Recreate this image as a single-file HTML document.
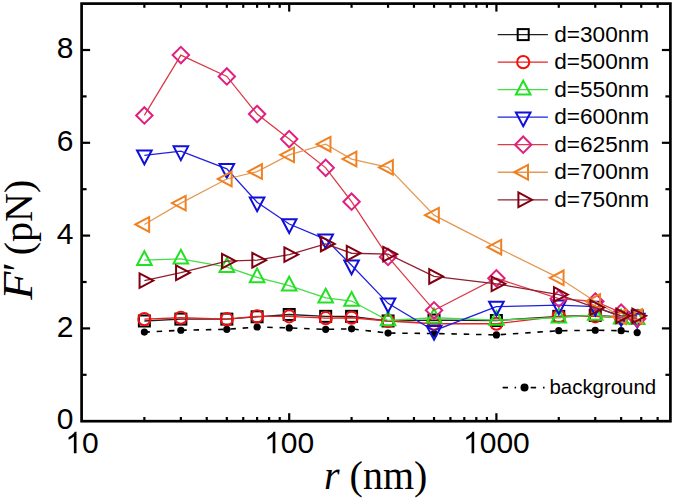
<!DOCTYPE html>
<html><head><meta charset="utf-8"><style>
html,body{margin:0;padding:0;background:#fff;width:675px;height:499px;overflow:hidden;font-family:"Liberation Sans",sans-serif;}
svg{display:block;}
</style></head><body>
<svg width="675" height="499" viewBox="0 0 675 499" font-family="Liberation Sans, sans-serif">
<rect width="675" height="499" fill="#fff"/>
<defs><clipPath id="c"><rect x="81.6" y="3.6" width="588.8" height="417.59999999999997"/></clipPath></defs>
<g clip-path="url(#c)">
<polyline points="144.37,332.11 180.86,330.26 226.83,329.33 257.10,327.01 289.20,327.94 325.69,329.33 351.57,328.86 388.06,333.04 434.03,333.50 496.40,334.90 558.77,330.72 595.26,330.26 621.15,330.72 637.18,332.58" fill="none" stroke="#000" stroke-width="1.6" stroke-dasharray="5.5 6.8"/>
<circle cx="144.37" cy="332.11" r="3.6" fill="#000"/>
<circle cx="180.86" cy="330.26" r="3.6" fill="#000"/>
<circle cx="226.83" cy="329.33" r="3.6" fill="#000"/>
<circle cx="257.10" cy="327.01" r="3.6" fill="#000"/>
<circle cx="289.20" cy="327.94" r="3.6" fill="#000"/>
<circle cx="325.69" cy="329.33" r="3.6" fill="#000"/>
<circle cx="351.57" cy="328.86" r="3.6" fill="#000"/>
<circle cx="388.06" cy="333.04" r="3.6" fill="#000"/>
<circle cx="434.03" cy="333.50" r="3.6" fill="#000"/>
<circle cx="496.40" cy="334.90" r="3.6" fill="#000"/>
<circle cx="558.77" cy="330.72" r="3.6" fill="#000"/>
<circle cx="595.26" cy="330.26" r="3.6" fill="#000"/>
<circle cx="621.15" cy="330.72" r="3.6" fill="#000"/>
<circle cx="637.18" cy="332.58" r="3.6" fill="#000"/>
<polyline points="144.37,320.98 180.86,319.12 226.83,319.12 257.10,316.80 289.20,314.48 325.69,316.34 351.57,316.34 388.06,320.98 434.03,320.05 496.40,320.51 558.77,316.34 595.26,315.41 621.15,316.80 637.18,315.87" fill="none" stroke="#202020" stroke-width="1.3"/>
<rect x="138.87" y="315.48" width="11.00" height="11.00" fill="none" stroke="#000000" stroke-width="2"/>
<rect x="175.36" y="313.62" width="11.00" height="11.00" fill="none" stroke="#000000" stroke-width="2"/>
<rect x="221.33" y="313.62" width="11.00" height="11.00" fill="none" stroke="#000000" stroke-width="2"/>
<rect x="251.60" y="311.30" width="11.00" height="11.00" fill="none" stroke="#000000" stroke-width="2"/>
<rect x="283.70" y="308.98" width="11.00" height="11.00" fill="none" stroke="#000000" stroke-width="2"/>
<rect x="320.19" y="310.84" width="11.00" height="11.00" fill="none" stroke="#000000" stroke-width="2"/>
<rect x="346.07" y="310.84" width="11.00" height="11.00" fill="none" stroke="#000000" stroke-width="2"/>
<rect x="382.56" y="315.48" width="11.00" height="11.00" fill="none" stroke="#000000" stroke-width="2"/>
<rect x="428.53" y="314.55" width="11.00" height="11.00" fill="none" stroke="#000000" stroke-width="2"/>
<rect x="490.90" y="315.01" width="11.00" height="11.00" fill="none" stroke="#000000" stroke-width="2"/>
<rect x="553.27" y="310.84" width="11.00" height="11.00" fill="none" stroke="#000000" stroke-width="2"/>
<rect x="589.76" y="309.91" width="11.00" height="11.00" fill="none" stroke="#000000" stroke-width="2"/>
<rect x="615.65" y="311.30" width="11.00" height="11.00" fill="none" stroke="#000000" stroke-width="2"/>
<rect x="631.68" y="310.37" width="11.00" height="11.00" fill="none" stroke="#000000" stroke-width="2"/>
<polyline points="144.37,319.12 180.86,317.73 226.83,319.12 257.10,316.34 289.20,316.34 325.69,318.19 351.57,317.73 388.06,320.98 434.03,323.76 496.40,323.76 558.77,316.34 595.26,316.34 621.15,317.73 637.18,318.19" fill="none" stroke="#e82020" stroke-width="1.3"/>
<circle cx="144.37" cy="319.12" r="6.1" fill="none" stroke="#f01010" stroke-width="2"/>
<circle cx="180.86" cy="317.73" r="6.1" fill="none" stroke="#f01010" stroke-width="2"/>
<circle cx="226.83" cy="319.12" r="6.1" fill="none" stroke="#f01010" stroke-width="2"/>
<circle cx="257.10" cy="316.34" r="6.1" fill="none" stroke="#f01010" stroke-width="2"/>
<circle cx="289.20" cy="316.34" r="6.1" fill="none" stroke="#f01010" stroke-width="2"/>
<circle cx="325.69" cy="318.19" r="6.1" fill="none" stroke="#f01010" stroke-width="2"/>
<circle cx="351.57" cy="317.73" r="6.1" fill="none" stroke="#f01010" stroke-width="2"/>
<circle cx="388.06" cy="320.98" r="6.1" fill="none" stroke="#f01010" stroke-width="2"/>
<circle cx="434.03" cy="323.76" r="6.1" fill="none" stroke="#f01010" stroke-width="2"/>
<circle cx="496.40" cy="323.76" r="6.1" fill="none" stroke="#f01010" stroke-width="2"/>
<circle cx="558.77" cy="316.34" r="6.1" fill="none" stroke="#f01010" stroke-width="2"/>
<circle cx="595.26" cy="316.34" r="6.1" fill="none" stroke="#f01010" stroke-width="2"/>
<circle cx="621.15" cy="317.73" r="6.1" fill="none" stroke="#f01010" stroke-width="2"/>
<circle cx="637.18" cy="318.19" r="6.1" fill="none" stroke="#f01010" stroke-width="2"/>
<polyline points="144.37,260.19 180.86,258.80 226.83,267.15 257.10,277.36 289.20,285.71 325.69,297.78 351.57,301.02 388.06,320.51 434.03,317.73 496.40,320.05 558.77,317.73 595.26,314.94 621.15,318.66 637.18,319.12" fill="none" stroke="#44dd44" stroke-width="1.3"/>
<polygon points="144.37,251.19 151.67,264.99 137.07,264.99" fill="none" stroke="#22e022" stroke-width="2" stroke-linejoin="miter"/>
<polygon points="180.86,249.80 188.16,263.60 173.56,263.60" fill="none" stroke="#22e022" stroke-width="2" stroke-linejoin="miter"/>
<polygon points="226.83,258.15 234.13,271.95 219.53,271.95" fill="none" stroke="#22e022" stroke-width="2" stroke-linejoin="miter"/>
<polygon points="257.10,268.36 264.40,282.16 249.80,282.16" fill="none" stroke="#22e022" stroke-width="2" stroke-linejoin="miter"/>
<polygon points="289.20,276.71 296.50,290.51 281.90,290.51" fill="none" stroke="#22e022" stroke-width="2" stroke-linejoin="miter"/>
<polygon points="325.69,288.78 332.99,302.58 318.39,302.58" fill="none" stroke="#22e022" stroke-width="2" stroke-linejoin="miter"/>
<polygon points="351.57,292.02 358.87,305.82 344.27,305.82" fill="none" stroke="#22e022" stroke-width="2" stroke-linejoin="miter"/>
<polygon points="388.06,311.51 395.36,325.31 380.76,325.31" fill="none" stroke="#22e022" stroke-width="2" stroke-linejoin="miter"/>
<polygon points="434.03,308.73 441.33,322.53 426.73,322.53" fill="none" stroke="#22e022" stroke-width="2" stroke-linejoin="miter"/>
<polygon points="496.40,311.05 503.70,324.85 489.10,324.85" fill="none" stroke="#22e022" stroke-width="2" stroke-linejoin="miter"/>
<polygon points="558.77,308.73 566.07,322.53 551.47,322.53" fill="none" stroke="#22e022" stroke-width="2" stroke-linejoin="miter"/>
<polygon points="595.26,305.94 602.56,319.74 587.96,319.74" fill="none" stroke="#22e022" stroke-width="2" stroke-linejoin="miter"/>
<polygon points="621.15,309.66 628.45,323.46 613.85,323.46" fill="none" stroke="#22e022" stroke-width="2" stroke-linejoin="miter"/>
<polygon points="637.18,310.12 644.48,323.92 629.88,323.92" fill="none" stroke="#22e022" stroke-width="2" stroke-linejoin="miter"/>
<polyline points="144.37,155.33 180.86,151.15 226.83,168.78 257.10,202.19 289.20,224.00 325.69,239.31 351.57,265.30 388.06,303.34 434.03,330.72 496.40,306.59 558.77,305.20 595.26,306.59 621.15,316.80 637.18,318.66" fill="none" stroke="#2020e0" stroke-width="1.3"/>
<polygon points="144.37,164.33 151.67,150.53 137.07,150.53" fill="none" stroke="#1010d8" stroke-width="2" stroke-linejoin="miter"/>
<polygon points="180.86,160.15 188.16,146.35 173.56,146.35" fill="none" stroke="#1010d8" stroke-width="2" stroke-linejoin="miter"/>
<polygon points="226.83,177.78 234.13,163.98 219.53,163.98" fill="none" stroke="#1010d8" stroke-width="2" stroke-linejoin="miter"/>
<polygon points="257.10,211.19 264.40,197.39 249.80,197.39" fill="none" stroke="#1010d8" stroke-width="2" stroke-linejoin="miter"/>
<polygon points="289.20,233.00 296.50,219.20 281.90,219.20" fill="none" stroke="#1010d8" stroke-width="2" stroke-linejoin="miter"/>
<polygon points="325.69,248.31 332.99,234.51 318.39,234.51" fill="none" stroke="#1010d8" stroke-width="2" stroke-linejoin="miter"/>
<polygon points="351.57,274.30 358.87,260.50 344.27,260.50" fill="none" stroke="#1010d8" stroke-width="2" stroke-linejoin="miter"/>
<polygon points="388.06,312.34 395.36,298.54 380.76,298.54" fill="none" stroke="#1010d8" stroke-width="2" stroke-linejoin="miter"/>
<polygon points="434.03,339.72 441.33,325.92 426.73,325.92" fill="none" stroke="#1010d8" stroke-width="2" stroke-linejoin="miter"/>
<polygon points="496.40,315.59 503.70,301.79 489.10,301.79" fill="none" stroke="#1010d8" stroke-width="2" stroke-linejoin="miter"/>
<polygon points="558.77,314.20 566.07,300.40 551.47,300.40" fill="none" stroke="#1010d8" stroke-width="2" stroke-linejoin="miter"/>
<polygon points="595.26,315.59 602.56,301.79 587.96,301.79" fill="none" stroke="#1010d8" stroke-width="2" stroke-linejoin="miter"/>
<polygon points="621.15,325.80 628.45,312.00 613.85,312.00" fill="none" stroke="#1010d8" stroke-width="2" stroke-linejoin="miter"/>
<polygon points="637.18,327.66 644.48,313.86 629.88,313.86" fill="none" stroke="#1010d8" stroke-width="2" stroke-linejoin="miter"/>
<polyline points="144.37,115.42 180.86,55.10 226.83,76.45 257.10,114.03 289.20,139.09 325.69,167.86 351.57,201.73 388.06,256.94 434.03,310.30 496.40,278.29 558.77,298.70 595.26,301.49 621.15,312.62 637.18,318.66" fill="none" stroke="#dc3a48" stroke-width="1.3"/>
<polygon points="144.37,107.22 152.57,115.42 144.37,123.62 136.17,115.42" fill="none" stroke="#e0207f" stroke-width="2" stroke-linejoin="miter"/>
<polygon points="180.86,46.90 189.06,55.10 180.86,63.30 172.66,55.10" fill="none" stroke="#e0207f" stroke-width="2" stroke-linejoin="miter"/>
<polygon points="226.83,68.25 235.03,76.45 226.83,84.65 218.63,76.45" fill="none" stroke="#e0207f" stroke-width="2" stroke-linejoin="miter"/>
<polygon points="257.10,105.83 265.30,114.03 257.10,122.23 248.90,114.03" fill="none" stroke="#e0207f" stroke-width="2" stroke-linejoin="miter"/>
<polygon points="289.20,130.89 297.40,139.09 289.20,147.29 281.00,139.09" fill="none" stroke="#e0207f" stroke-width="2" stroke-linejoin="miter"/>
<polygon points="325.69,159.66 333.89,167.86 325.69,176.06 317.49,167.86" fill="none" stroke="#e0207f" stroke-width="2" stroke-linejoin="miter"/>
<polygon points="351.57,193.53 359.77,201.73 351.57,209.93 343.37,201.73" fill="none" stroke="#e0207f" stroke-width="2" stroke-linejoin="miter"/>
<polygon points="388.06,248.74 396.26,256.94 388.06,265.14 379.86,256.94" fill="none" stroke="#e0207f" stroke-width="2" stroke-linejoin="miter"/>
<polygon points="434.03,302.10 442.23,310.30 434.03,318.50 425.83,310.30" fill="none" stroke="#e0207f" stroke-width="2" stroke-linejoin="miter"/>
<polygon points="496.40,270.09 504.60,278.29 496.40,286.49 488.20,278.29" fill="none" stroke="#e0207f" stroke-width="2" stroke-linejoin="miter"/>
<polygon points="558.77,290.50 566.97,298.70 558.77,306.90 550.57,298.70" fill="none" stroke="#e0207f" stroke-width="2" stroke-linejoin="miter"/>
<polygon points="595.26,293.29 603.46,301.49 595.26,309.69 587.06,301.49" fill="none" stroke="#e0207f" stroke-width="2" stroke-linejoin="miter"/>
<polygon points="621.15,304.42 629.35,312.62 621.15,320.82 612.95,312.62" fill="none" stroke="#e0207f" stroke-width="2" stroke-linejoin="miter"/>
<polygon points="637.18,310.46 645.38,318.66 637.18,326.86 628.98,318.66" fill="none" stroke="#e0207f" stroke-width="2" stroke-linejoin="miter"/>
<polyline points="144.37,224.46 180.86,203.12 226.83,178.99 257.10,171.57 289.20,154.86 325.69,144.19 351.57,159.04 388.06,167.39 434.03,215.18 496.40,247.20 558.77,277.82 595.26,301.49 621.15,316.80 637.18,316.34" fill="none" stroke="#e49a55" stroke-width="1.3"/>
<polygon points="135.37,224.46 149.17,217.16 149.17,231.76" fill="none" stroke="#f08020" stroke-width="2" stroke-linejoin="miter"/>
<polygon points="171.86,203.12 185.66,195.82 185.66,210.42" fill="none" stroke="#f08020" stroke-width="2" stroke-linejoin="miter"/>
<polygon points="217.83,178.99 231.63,171.69 231.63,186.29" fill="none" stroke="#f08020" stroke-width="2" stroke-linejoin="miter"/>
<polygon points="248.10,171.57 261.90,164.27 261.90,178.87" fill="none" stroke="#f08020" stroke-width="2" stroke-linejoin="miter"/>
<polygon points="280.20,154.86 294.00,147.56 294.00,162.16" fill="none" stroke="#f08020" stroke-width="2" stroke-linejoin="miter"/>
<polygon points="316.69,144.19 330.49,136.89 330.49,151.49" fill="none" stroke="#f08020" stroke-width="2" stroke-linejoin="miter"/>
<polygon points="342.57,159.04 356.37,151.74 356.37,166.34" fill="none" stroke="#f08020" stroke-width="2" stroke-linejoin="miter"/>
<polygon points="379.06,167.39 392.86,160.09 392.86,174.69" fill="none" stroke="#f08020" stroke-width="2" stroke-linejoin="miter"/>
<polygon points="425.03,215.18 438.83,207.88 438.83,222.48" fill="none" stroke="#f08020" stroke-width="2" stroke-linejoin="miter"/>
<polygon points="487.40,247.20 501.20,239.90 501.20,254.50" fill="none" stroke="#f08020" stroke-width="2" stroke-linejoin="miter"/>
<polygon points="549.77,277.82 563.57,270.52 563.57,285.12" fill="none" stroke="#f08020" stroke-width="2" stroke-linejoin="miter"/>
<polygon points="586.26,301.49 600.06,294.19 600.06,308.79" fill="none" stroke="#f08020" stroke-width="2" stroke-linejoin="miter"/>
<polygon points="612.15,316.80 625.95,309.50 625.95,324.10" fill="none" stroke="#f08020" stroke-width="2" stroke-linejoin="miter"/>
<polygon points="628.18,316.34 641.98,309.04 641.98,323.64" fill="none" stroke="#f08020" stroke-width="2" stroke-linejoin="miter"/>
<polyline points="144.37,280.61 180.86,272.72 226.83,261.12 257.10,260.19 289.20,254.62 325.69,243.95 351.57,253.23 388.06,254.16 434.03,276.43 496.40,283.86 558.77,294.53 595.26,307.52 621.15,315.87 637.18,315.87" fill="none" stroke="#902030" stroke-width="1.3"/>
<polygon points="153.37,280.61 139.57,273.31 139.57,287.91" fill="none" stroke="#800010" stroke-width="2" stroke-linejoin="miter"/>
<polygon points="189.86,272.72 176.06,265.42 176.06,280.02" fill="none" stroke="#800010" stroke-width="2" stroke-linejoin="miter"/>
<polygon points="235.83,261.12 222.03,253.82 222.03,268.42" fill="none" stroke="#800010" stroke-width="2" stroke-linejoin="miter"/>
<polygon points="266.10,260.19 252.30,252.89 252.30,267.49" fill="none" stroke="#800010" stroke-width="2" stroke-linejoin="miter"/>
<polygon points="298.20,254.62 284.40,247.32 284.40,261.92" fill="none" stroke="#800010" stroke-width="2" stroke-linejoin="miter"/>
<polygon points="334.69,243.95 320.89,236.65 320.89,251.25" fill="none" stroke="#800010" stroke-width="2" stroke-linejoin="miter"/>
<polygon points="360.57,253.23 346.77,245.93 346.77,260.53" fill="none" stroke="#800010" stroke-width="2" stroke-linejoin="miter"/>
<polygon points="397.06,254.16 383.26,246.86 383.26,261.46" fill="none" stroke="#800010" stroke-width="2" stroke-linejoin="miter"/>
<polygon points="443.03,276.43 429.23,269.13 429.23,283.73" fill="none" stroke="#800010" stroke-width="2" stroke-linejoin="miter"/>
<polygon points="505.40,283.86 491.60,276.56 491.60,291.16" fill="none" stroke="#800010" stroke-width="2" stroke-linejoin="miter"/>
<polygon points="567.77,294.53 553.97,287.23 553.97,301.83" fill="none" stroke="#800010" stroke-width="2" stroke-linejoin="miter"/>
<polygon points="604.26,307.52 590.46,300.22 590.46,314.82" fill="none" stroke="#800010" stroke-width="2" stroke-linejoin="miter"/>
<polygon points="630.15,315.87 616.35,308.57 616.35,323.17" fill="none" stroke="#800010" stroke-width="2" stroke-linejoin="miter"/>
<polygon points="646.18,315.87 632.38,308.57 632.38,323.17" fill="none" stroke="#800010" stroke-width="2" stroke-linejoin="miter"/>
</g>
<rect x="81.6" y="3.6" width="588.8" height="417.59999999999997" fill="none" stroke="#000" stroke-width="2.7"/>
<line x1="144.37" y1="421.2" x2="144.37" y2="417.0" stroke="#000" stroke-width="2.2"/>
<line x1="144.37" y1="3.6" x2="144.37" y2="7.800000000000001" stroke="#000" stroke-width="2.2"/>
<line x1="180.86" y1="421.2" x2="180.86" y2="417.0" stroke="#000" stroke-width="2.2"/>
<line x1="180.86" y1="3.6" x2="180.86" y2="7.800000000000001" stroke="#000" stroke-width="2.2"/>
<line x1="206.75" y1="421.2" x2="206.75" y2="417.0" stroke="#000" stroke-width="2.2"/>
<line x1="206.75" y1="3.6" x2="206.75" y2="7.800000000000001" stroke="#000" stroke-width="2.2"/>
<line x1="226.83" y1="421.2" x2="226.83" y2="417.0" stroke="#000" stroke-width="2.2"/>
<line x1="226.83" y1="3.6" x2="226.83" y2="7.800000000000001" stroke="#000" stroke-width="2.2"/>
<line x1="243.23" y1="421.2" x2="243.23" y2="417.0" stroke="#000" stroke-width="2.2"/>
<line x1="243.23" y1="3.6" x2="243.23" y2="7.800000000000001" stroke="#000" stroke-width="2.2"/>
<line x1="257.10" y1="421.2" x2="257.10" y2="417.0" stroke="#000" stroke-width="2.2"/>
<line x1="257.10" y1="3.6" x2="257.10" y2="7.800000000000001" stroke="#000" stroke-width="2.2"/>
<line x1="269.12" y1="421.2" x2="269.12" y2="417.0" stroke="#000" stroke-width="2.2"/>
<line x1="269.12" y1="3.6" x2="269.12" y2="7.800000000000001" stroke="#000" stroke-width="2.2"/>
<line x1="279.72" y1="421.2" x2="279.72" y2="417.0" stroke="#000" stroke-width="2.2"/>
<line x1="279.72" y1="3.6" x2="279.72" y2="7.800000000000001" stroke="#000" stroke-width="2.2"/>
<line x1="289.20" y1="421.2" x2="289.20" y2="413.2" stroke="#000" stroke-width="2.2"/>
<line x1="289.20" y1="3.6" x2="289.20" y2="11.6" stroke="#000" stroke-width="2.2"/>
<line x1="351.57" y1="421.2" x2="351.57" y2="417.0" stroke="#000" stroke-width="2.2"/>
<line x1="351.57" y1="3.6" x2="351.57" y2="7.800000000000001" stroke="#000" stroke-width="2.2"/>
<line x1="388.06" y1="421.2" x2="388.06" y2="417.0" stroke="#000" stroke-width="2.2"/>
<line x1="388.06" y1="3.6" x2="388.06" y2="7.800000000000001" stroke="#000" stroke-width="2.2"/>
<line x1="413.95" y1="421.2" x2="413.95" y2="417.0" stroke="#000" stroke-width="2.2"/>
<line x1="413.95" y1="3.6" x2="413.95" y2="7.800000000000001" stroke="#000" stroke-width="2.2"/>
<line x1="434.03" y1="421.2" x2="434.03" y2="417.0" stroke="#000" stroke-width="2.2"/>
<line x1="434.03" y1="3.6" x2="434.03" y2="7.800000000000001" stroke="#000" stroke-width="2.2"/>
<line x1="450.43" y1="421.2" x2="450.43" y2="417.0" stroke="#000" stroke-width="2.2"/>
<line x1="450.43" y1="3.6" x2="450.43" y2="7.800000000000001" stroke="#000" stroke-width="2.2"/>
<line x1="464.30" y1="421.2" x2="464.30" y2="417.0" stroke="#000" stroke-width="2.2"/>
<line x1="464.30" y1="3.6" x2="464.30" y2="7.800000000000001" stroke="#000" stroke-width="2.2"/>
<line x1="476.32" y1="421.2" x2="476.32" y2="417.0" stroke="#000" stroke-width="2.2"/>
<line x1="476.32" y1="3.6" x2="476.32" y2="7.800000000000001" stroke="#000" stroke-width="2.2"/>
<line x1="486.92" y1="421.2" x2="486.92" y2="417.0" stroke="#000" stroke-width="2.2"/>
<line x1="486.92" y1="3.6" x2="486.92" y2="7.800000000000001" stroke="#000" stroke-width="2.2"/>
<line x1="496.40" y1="421.2" x2="496.40" y2="413.2" stroke="#000" stroke-width="2.2"/>
<line x1="496.40" y1="3.6" x2="496.40" y2="11.6" stroke="#000" stroke-width="2.2"/>
<line x1="558.77" y1="421.2" x2="558.77" y2="417.0" stroke="#000" stroke-width="2.2"/>
<line x1="558.77" y1="3.6" x2="558.77" y2="7.800000000000001" stroke="#000" stroke-width="2.2"/>
<line x1="595.26" y1="421.2" x2="595.26" y2="417.0" stroke="#000" stroke-width="2.2"/>
<line x1="595.26" y1="3.6" x2="595.26" y2="7.800000000000001" stroke="#000" stroke-width="2.2"/>
<line x1="621.15" y1="421.2" x2="621.15" y2="417.0" stroke="#000" stroke-width="2.2"/>
<line x1="621.15" y1="3.6" x2="621.15" y2="7.800000000000001" stroke="#000" stroke-width="2.2"/>
<line x1="641.23" y1="421.2" x2="641.23" y2="417.0" stroke="#000" stroke-width="2.2"/>
<line x1="641.23" y1="3.6" x2="641.23" y2="7.800000000000001" stroke="#000" stroke-width="2.2"/>
<line x1="657.63" y1="421.2" x2="657.63" y2="417.0" stroke="#000" stroke-width="2.2"/>
<line x1="657.63" y1="3.6" x2="657.63" y2="7.800000000000001" stroke="#000" stroke-width="2.2"/>
<line x1="81.6" y1="374.80" x2="86.6" y2="374.80" stroke="#000" stroke-width="2.2"/>
<line x1="670.4" y1="374.80" x2="665.4" y2="374.80" stroke="#000" stroke-width="2.2"/>
<line x1="81.6" y1="328.40" x2="90.1" y2="328.40" stroke="#000" stroke-width="2.2"/>
<line x1="670.4" y1="328.40" x2="661.9" y2="328.40" stroke="#000" stroke-width="2.2"/>
<line x1="81.6" y1="282.00" x2="86.6" y2="282.00" stroke="#000" stroke-width="2.2"/>
<line x1="670.4" y1="282.00" x2="665.4" y2="282.00" stroke="#000" stroke-width="2.2"/>
<line x1="81.6" y1="235.60" x2="90.1" y2="235.60" stroke="#000" stroke-width="2.2"/>
<line x1="670.4" y1="235.60" x2="661.9" y2="235.60" stroke="#000" stroke-width="2.2"/>
<line x1="81.6" y1="189.20" x2="86.6" y2="189.20" stroke="#000" stroke-width="2.2"/>
<line x1="670.4" y1="189.20" x2="665.4" y2="189.20" stroke="#000" stroke-width="2.2"/>
<line x1="81.6" y1="142.80" x2="90.1" y2="142.80" stroke="#000" stroke-width="2.2"/>
<line x1="670.4" y1="142.80" x2="661.9" y2="142.80" stroke="#000" stroke-width="2.2"/>
<line x1="81.6" y1="96.40" x2="86.6" y2="96.40" stroke="#000" stroke-width="2.2"/>
<line x1="670.4" y1="96.40" x2="665.4" y2="96.40" stroke="#000" stroke-width="2.2"/>
<line x1="81.6" y1="50.00" x2="90.1" y2="50.00" stroke="#000" stroke-width="2.2"/>
<line x1="670.4" y1="50.00" x2="661.9" y2="50.00" stroke="#000" stroke-width="2.2"/>
<text x="73.5" y="429.40" font-size="30" text-anchor="end">0</text>
<text x="73.5" y="336.60" font-size="30" text-anchor="end">2</text>
<text x="73.5" y="243.80" font-size="30" text-anchor="end">4</text>
<text x="73.5" y="151.00" font-size="30" text-anchor="end">6</text>
<text x="73.5" y="58.20" font-size="30" text-anchor="end">8</text>
<path d="M763,0L583,0L583,1147Q518,1085 465,1054Q412,1023 359,992Q306,961 222,930L222,1104Q373,1175 429.5,1225.5Q486,1276 542.5,1326.5Q599,1377 646,1466L763,1466Z" transform="translate(65.32,453.3) scale(0.01465,-0.01465)" fill="#000"/>
<text x="82.00" y="453.3" font-size="30">0</text>
<path d="M763,0L583,0L583,1147Q518,1085 465,1054Q412,1023 359,992Q306,961 222,930L222,1104Q373,1175 429.5,1225.5Q486,1276 542.5,1326.5Q599,1377 646,1466L763,1466Z" transform="translate(264.17,453.3) scale(0.01465,-0.01465)" fill="#000"/>
<text x="280.86" y="453.3" font-size="30">00</text>
<path d="M763,0L583,0L583,1147Q518,1085 465,1054Q412,1023 359,992Q306,961 222,930L222,1104Q373,1175 429.5,1225.5Q486,1276 542.5,1326.5Q599,1377 646,1466L763,1466Z" transform="translate(463.03,453.3) scale(0.01465,-0.01465)" fill="#000"/>
<text x="479.72" y="453.3" font-size="30">000</text>
<text x="324" y="489" font-family="Liberation Serif" font-size="40"><tspan font-style="italic">r</tspan> (nm)</text>
<g transform="translate(31.6,299.8) rotate(-90)" font-family="Liberation Serif"><text transform="scale(1.1,1)" font-size="42" font-style="italic">F</text><text x="25.85" font-size="42" font-style="italic">&#8242;</text><text x="44.6" font-size="40">(pN)</text></g>
<line x1="497.7" y1="34.60" x2="547.9" y2="34.60" stroke="#202020" stroke-width="1.3"/>
<rect x="517.70" y="29.10" width="11.00" height="11.00" fill="none" stroke="#000000" stroke-width="2"/>
<text x="554.3" y="41.80" font-size="22.6">d=300nm</text>
<line x1="497.7" y1="62.13" x2="547.9" y2="62.13" stroke="#e82020" stroke-width="1.3"/>
<circle cx="523.20" cy="62.13" r="6.1" fill="none" stroke="#f01010" stroke-width="2"/>
<text x="554.3" y="69.33" font-size="22.6">d=500nm</text>
<line x1="497.7" y1="89.66" x2="547.9" y2="89.66" stroke="#44dd44" stroke-width="1.3"/>
<polygon points="523.20,80.66 530.50,94.46 515.90,94.46" fill="none" stroke="#22e022" stroke-width="2" stroke-linejoin="miter"/>
<text x="554.3" y="96.86" font-size="22.6">d=550nm</text>
<line x1="497.7" y1="117.19" x2="547.9" y2="117.19" stroke="#2020e0" stroke-width="1.3"/>
<polygon points="523.20,126.19 530.50,112.39 515.90,112.39" fill="none" stroke="#1010d8" stroke-width="2" stroke-linejoin="miter"/>
<text x="554.3" y="124.39" font-size="22.6">d=600nm</text>
<line x1="497.7" y1="144.72" x2="547.9" y2="144.72" stroke="#dc3a48" stroke-width="1.3"/>
<polygon points="523.20,136.52 531.40,144.72 523.20,152.92 515.00,144.72" fill="none" stroke="#e0207f" stroke-width="2" stroke-linejoin="miter"/>
<text x="554.3" y="151.92" font-size="22.6">d=625nm</text>
<line x1="497.7" y1="172.25" x2="547.9" y2="172.25" stroke="#e49a55" stroke-width="1.3"/>
<polygon points="514.20,172.25 528.00,164.95 528.00,179.55" fill="none" stroke="#f08020" stroke-width="2" stroke-linejoin="miter"/>
<text x="554.3" y="179.45" font-size="22.6">d=700nm</text>
<line x1="497.7" y1="199.78" x2="547.9" y2="199.78" stroke="#902030" stroke-width="1.3"/>
<polygon points="532.20,199.78 518.40,192.48 518.40,207.08" fill="none" stroke="#800010" stroke-width="2" stroke-linejoin="miter"/>
<text x="554.3" y="206.98" font-size="22.6">d=750nm</text>
<line x1="502.6" y1="387.6" x2="508" y2="387.6" stroke="#000" stroke-width="1.7"/>
<line x1="514.6" y1="387.6" x2="516.1" y2="387.6" stroke="#000" stroke-width="1.7"/>
<line x1="530.7" y1="387.6" x2="536.1" y2="387.6" stroke="#000" stroke-width="1.7"/>
<line x1="543" y1="387.6" x2="544.6" y2="387.6" stroke="#000" stroke-width="1.7"/>
<circle cx="524.5" cy="387.6" r="4" fill="#000"/>
<text x="549.5" y="393.60" font-size="20.4">background</text>
</svg>
</body></html>
